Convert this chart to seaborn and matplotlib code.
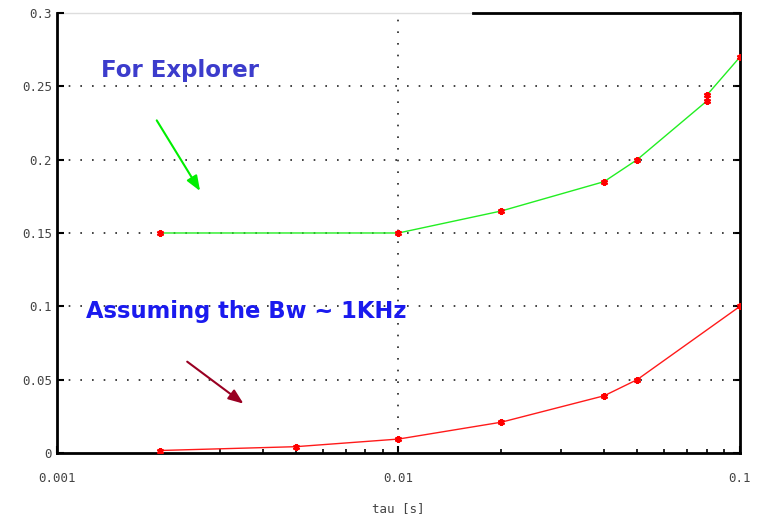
import pandas as pd
import seaborn as sns
import matplotlib.pyplot as plt
import numpy as np

# Data
tau_explorer = [0.002, 0.01, 0.02, 0.04, 0.05, 0.08, 0.08, 0.1]
val_explorer = [0.15, 0.15, 0.165, 0.185, 0.2, 0.24, 0.244, 0.27]

tau_bw = [0.002, 0.005, 0.01, 0.02, 0.04, 0.05, 0.1]
val_bw = [0.0017, 0.0043, 0.0095, 0.021, 0.039, 0.05, 0.1]

y_ticks = [0, 0.05, 0.1, 0.15, 0.2, 0.25, 0.3]
y_labels = ["0", "0.05", "0.1", "0.15", "0.2", "0.25", "0.3"]
x_ticks = [0.001, 0.01, 0.1]
x_labels = ["0.001", "0.01", "0.1"]

sns.set_style("ticks")
plt.rcParams['font.family'] = ['DejaVu Sans']

fig = plt.figure(figsize=(7.62, 5.15), dpi=100)
ax = fig.add_axes([0.0748, 0.1204, 0.8963, 0.8544])

df_exp = pd.DataFrame({'tau': tau_explorer, 'val': val_explorer})
df_bw = pd.DataFrame({'tau': tau_bw, 'val': val_bw})

# asterisk-like point marker, as in the original
star = (6, 2, 0)
sns.lineplot(data=df_exp, x='tau', y='val', estimator=None, sort=False, color='#22ee22',
             linewidth=1.0, marker=star, markersize=5, markeredgewidth=1.6,
             markerfacecolor='red', markeredgecolor='red', ax=ax, zorder=3)
sns.lineplot(data=df_bw, x='tau', y='val', estimator=None, sort=False, color='#ff1a1a',
             linewidth=1.0, marker=star, markersize=5, markeredgewidth=1.6,
             markerfacecolor='red', markeredgecolor='red', ax=ax, zorder=3)

ax.set_xscale('log')
ax.set_xlim(0.001, 0.1)
ax.set_ylim(0, 0.3)

# grid: dotted, horizontal at each y tick, vertical at 0.01 only
for yv in y_ticks[1:-1]:
    ax.axhline(yv, color='#222222', linestyle=(0, (1, 6)), linewidth=1.2, zorder=1)
ax.axvline(0.01, color='#222222', linestyle=(0, (1, 6)), linewidth=1.2, zorder=1)

ax.set_xticks(x_ticks)
ax.set_xticklabels(x_labels)
ax.set_yticks(y_ticks)
ax.set_yticklabels(y_labels)
ax.tick_params(axis='both', which='both', direction='in', colors='black',
               labelcolor='#444444', labelsize=9, top=False, right=True)
ax.tick_params(axis='both', which='major', length=5, width=1.5)
ax.tick_params(axis='x', which='minor', length=3, width=1.2)
ax.tick_params(axis='x', which='major', pad=14)
for lab in ax.get_xticklabels() + ax.get_yticklabels():
    lab.set_family('DejaVu Sans Mono')

ax.set_xlabel('tau [s]', fontsize=9, color='#444444', family='DejaVu Sans Mono', labelpad=12)
ax.set_ylabel('')

for side in ['left', 'bottom', 'right']:
    ax.spines[side].set_linewidth(2)
    ax.spines[side].set_color('black')
ax.spines['top'].set_color('black')
ax.spines['top'].set_linewidth(2)
ax.spines['top'].set_bounds(0.0165, 0.1)
ax.axhline(0.3, color='#dddddd', linewidth=1, zorder=0, clip_on=False)

# annotations
ax.text(0.00229, 0.261, 'For Explorer', color='#3c3ccc', fontsize=16.5, fontweight='bold',
        family='DejaVu Sans', ha='center', va='center')
ax.text(0.00358, 0.0968, 'Assuming the Bw ~ 1KHz', color='#1a1aee', fontsize=16.3,
        fontweight='bold', family='DejaVu Sans', ha='center', va='center')
ax.annotate('', xy=(0.00265, 0.177), xytext=(0.00194, 0.2284),
            arrowprops=dict(arrowstyle='-|>,head_length=0.9,head_width=0.35',
                            color='#00ee00', lw=1.5))
ax.annotate('', xy=(0.00357, 0.0325), xytext=(0.00237, 0.0634),
            arrowprops=dict(arrowstyle='-|>,head_length=0.9,head_width=0.35',
                            color='#990022', lw=1.5))

fig.savefig('out.png', dpi=100)
